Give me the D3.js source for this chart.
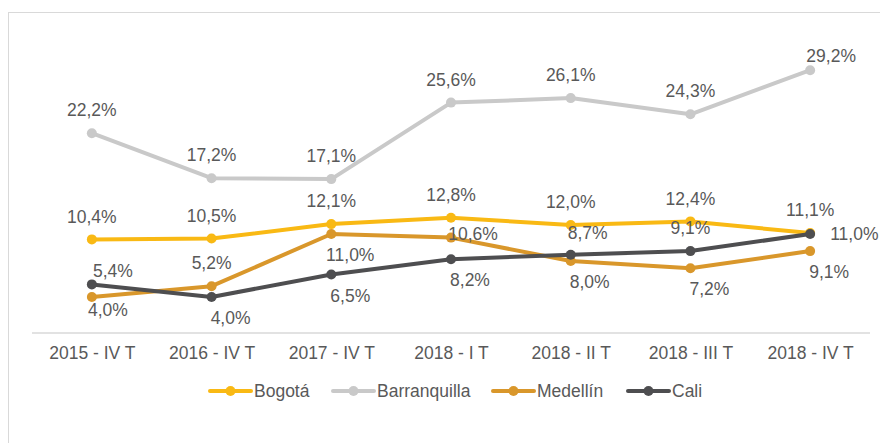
<!DOCTYPE html>
<html>
<head>
<meta charset="utf-8">
<script src="https://cdn.jsdelivr.net/npm/d3@7"></script>
<style>
  body { margin: 0; background: #fff; }
  text { font-family: "Liberation Sans", Arial, sans-serif; }
</style>
</head>
<body>
<div id="chart"></div>
<script>
// data
var periods = ["2015 - IV T", "2016 - IV T", "2017 - IV T", "2018 - I T", "2018 - II T", "2018 - III T", "2018 - IV T"];
var cities = ["Bogotá", "Barranquilla", "Medellín", "Cali"];
var bogota = [10.4, 10.5, 12.1, 12.8, 12.0, 12.4, 11.1];
var barranquilla = [22.2, 17.2, 17.1, 25.6, 26.1, 24.3, 29.2];
var medellin = [4.0, 5.2, 11.0, 10.6, 8.0, 7.2, 9.1];
var cali = [5.4, 4.0, 6.5, 8.2, 8.7, 9.1, 11.0];

// where each data label sits relative to its point
var labelPlace = [
  ["t", "t", "t", "t", "t", "t", "t"],
  ["t", "t", "t", "t", "t", "t", "tr"],
  ["bl", "t", "br", "m", "br", "br", "br"],
  ["tr", "br", "br", "br", "tR", "t", "r"]
];
var placeOffsets = {
  t: [0, -23, "middle"], tr: [21, -14, "middle"], tR: [17, -22, "middle"],
  br: [19, 21, "middle"], bl: [16, 13, "middle"], m: [22, -4, "middle"],
  r: [20, 0, "start"]
};

var colors = ["#F9B914", "#C9C9C9", "#D9972B", "#4E4E50"];
var series = [bogota, barranquilla, medellin, cali];

var W = 880, H = 443;
var svg = d3.select("#chart").append("svg")
    .attr("width", W)
    .attr("height", H);

// outer frame
svg.append("rect")
    .attr("x", 8.5).attr("y", 12.5)
    .attr("width", W + 10).attr("height", H + 10)
    .attr("fill", "none")
    .attr("stroke", "#D9D9D9")
    .attr("stroke-width", 1);

var x = d3.scalePoint()
    .domain(periods)
    .range([32, 870])
    .padding(0.5);
var y = d3.scaleLinear()
    .domain([0, 35])
    .range([333, 18]);

// x axis
var xAxis = svg.append("g")
    .attr("transform", "translate(0,333)")
    .call(d3.axisBottom(x).tickSize(0).tickPadding(14));
xAxis.select(".domain").attr("stroke", "#D9D9D9").attr("stroke-width", 1.3)
    .attr("d", "M32,0H870");
xAxis.selectAll("text")
    .attr("font-size", "17.5px")
    .attr("fill", "#595959")
    .attr("font-family", "Liberation Sans, Arial, sans-serif");

var line = d3.line()
    .x(function(d, i) { return x(periods[i]); })
    .y(function(d) { return y(d); });

series.forEach(function(vals, s) {
  var g = svg.append("g");
  g.append("path")
      .datum(vals)
      .attr("d", line)
      .attr("fill", "none")
      .attr("stroke", colors[s])
      .attr("stroke-width", 4)
      .attr("stroke-linejoin", "round");
  g.selectAll("circle")
      .data(vals)
      .enter().append("circle")
      .attr("cx", function(d, i) { return x(periods[i]); })
      .attr("cy", function(d) { return y(d); })
      .attr("r", 5)
      .attr("fill", colors[s]);
});

// data labels on top
series.forEach(function(vals, s) {
  svg.append("g").selectAll("text")
      .data(vals)
      .enter().append("text")
      .attr("x", function(d, i) { return x(periods[i]) + placeOffsets[labelPlace[s][i]][0]; })
      .attr("y", function(d, i) { return y(d) + placeOffsets[labelPlace[s][i]][1]; })
      .attr("dy", "0.35em")
      .attr("text-anchor", function(d, i) { return placeOffsets[labelPlace[s][i]][2]; })
      .attr("font-size", "17.5px")
      .attr("fill", "#595959")
      .text(function(d) { return d.toFixed(1).replace(".", ",") + "%"; });
});

// legend
var legendX = [210, 333, 493, 628];
var legend = svg.append("g").attr("transform", "translate(0,391)");
cities.forEach(function(c, s) {
  var lg = legend.append("g").attr("transform", "translate(" + legendX[s] + ",0)");
  lg.append("line")
      .attr("x1", 0).attr("x2", 41)
      .attr("stroke", colors[s])
      .attr("stroke-width", 4)
      .attr("stroke-linecap", "round");
  lg.append("circle")
      .attr("cx", 20.5).attr("r", 5)
      .attr("fill", colors[s]);
  lg.append("text")
      .attr("x", 44)
      .attr("dy", "0.35em")
      .attr("font-size", "17.5px")
      .attr("fill", "#595959")
      .text(c);
});
</script>
</body>
</html>
